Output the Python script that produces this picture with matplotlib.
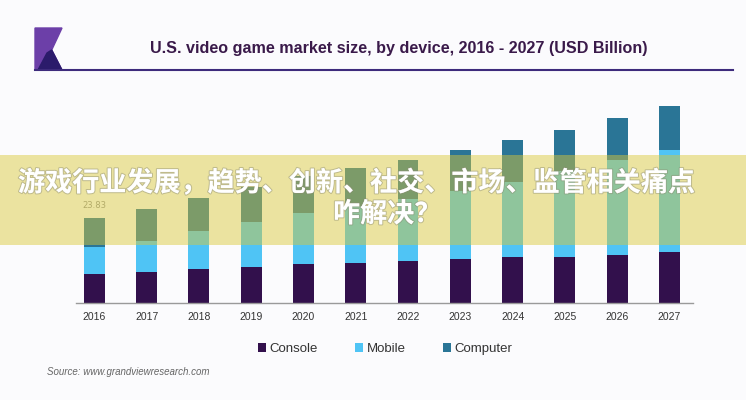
import numpy as np
import matplotlib.pyplot as plt
from matplotlib.patches import Rectangle, Polygon
import matplotlib.patheffects as pe

# data (USD billion)
years = ['2016', '2017', '2018', '2019', '2020', '2021',
         '2022', '2023', '2024', '2025', '2026', '2027']
console = [8.2, 8.77, 9.62, 10.26, 11.10, 11.38, 11.86, 12.34, 12.90, 13.06, 13.54, 14.47]
mobile = [7.6, 8.69, 10.65, 12.45, 14.13, 15.90, 17.30, 19.23, 21.19, 24.03, 26.63, 28.51]
computer = [8.03, 8.89, 9.17, 9.90, 10.46, 10.57, 10.88, 11.41, 11.69, 11.49, 11.69, 12.34]
series = ['Console', 'Mobile', 'Computer']
colors = ['#32104c', '#4fc4f5', '#2a7596']

title = 'U.S. video game market size, by device, 2016 - 2027 (USD Billion)'
source = 'Source: www.grandviewresearch.com'
headline = ['游戏行业发展，趋势、创新、社交、市场、监管相关痛点', '咋解决？']

W, H = 746, 400
fig = plt.figure(figsize=(W / 100, H / 100), dpi=100)
fig.patch.set_facecolor('#fbfbfd')


def fx(px):
    return px / W


def fy(py):
    return 1 - py / H


# axes placed to line up with the picture
ax = fig.add_axes([fx(76), fy(303.3), fx(693 - 76), 60 * 3.567 / H])
ax.set_facecolor('none')

x = np.arange(len(years))
b1 = ax.bar(x, console, width=0.4, color=colors[0], label=series[0])
b2 = ax.bar(x, mobile, width=0.4, bottom=console, color=colors[1], label=series[1])
bottom2 = np.array(console) + np.array(mobile)
b3 = ax.bar(x, computer, width=0.4, bottom=bottom2, color=colors[2], label=series[2])

ax.set_xlim(-0.35, 11.45)
ax.set_ylim(0, 60)
ax.set_xticks(x)
ax.set_xticklabels(years, fontsize=7.5, color='#333333', family='Liberation Sans')
ax.tick_params(axis='x', length=0, pad=6)
ax.set_yticks([])
for s in ['top', 'left', 'right']:
    ax.spines[s].set_visible(False)
ax.spines['bottom'].set_color('#9a9a9a')
ax.spines['bottom'].set_linewidth(1)

# faint old data label
ax.text(0, 27.4, '23.83', ha='center', va='center', fontsize=6, color='#777777', alpha=0.8)

# legend
fig.legend([b1, b2, b3], series, loc='center', bbox_to_anchor=(fx(385), fy(349)),
           ncol=3, frameon=False, handlelength=0.6, handleheight=0.6,
           handletextpad=0.3, columnspacing=2.8,
           prop={'family': 'Liberation Sans', 'size': 9.5})
for t in fig.legends[0].get_texts():
    t.set_color('#333333')

# title, logo and rule
fig.text(fx(399), fy(48), title, ha='center', va='center', fontsize=11.6,
         fontweight='bold', color='#3a1a4a', family='Liberation Sans')
fig.patches.append(Polygon([[fx(35), fy(28)], [fx(62), fy(28)], [fx(51.7), fy(50)],
                            [fx(62), fy(70)], [fx(35), fy(70)]],
                           closed=True, transform=fig.transFigure, color='#6c3fa8'))
fig.patches.append(Polygon([[fx(47), fy(53)], [fx(51.7), fy(50)], [fx(62), fy(70)],
                            [fx(38), fy(70)]],
                           closed=True, transform=fig.transFigure, color='#2b1b6b'))
fig.add_artist(plt.Line2D([fx(35), fx(733)], [fy(70), fy(70)], color='#3d2b7c',
                          lw=1.5, transform=fig.transFigure))

fig.text(fx(47), fy(372), source, ha='left', va='center', fontsize=7,
         color='#666666', style='italic', family='Liberation Sans')

# yellow overlay band with the headline
fig.patches.append(Rectangle((0, fy(245)), 1, 90 / H, transform=fig.transFigure,
                             facecolor=(217 / 255, 200 / 255, 56 / 255), alpha=0.47,
                             edgecolor='none', zorder=5))
shadow = [pe.withStroke(linewidth=1.5, foreground=(0.55, 0.55, 0.45, 0.45))]
fig.text(fx(18), fy(183), headline[0], ha='left', va='center', fontsize=19.5,
         fontweight='bold', color='white', family=['Noto Sans CJK SC', 'DejaVu Sans'],
         zorder=6, path_effects=shadow)
fig.text(fx(333), fy(214), headline[1], ha='left', va='center', fontsize=19.5,
         fontweight='bold', color='white', family=['Noto Sans CJK SC', 'DejaVu Sans'],
         zorder=6, path_effects=shadow)

fig.savefig('out.png', dpi=100, facecolor=fig.get_facecolor())
